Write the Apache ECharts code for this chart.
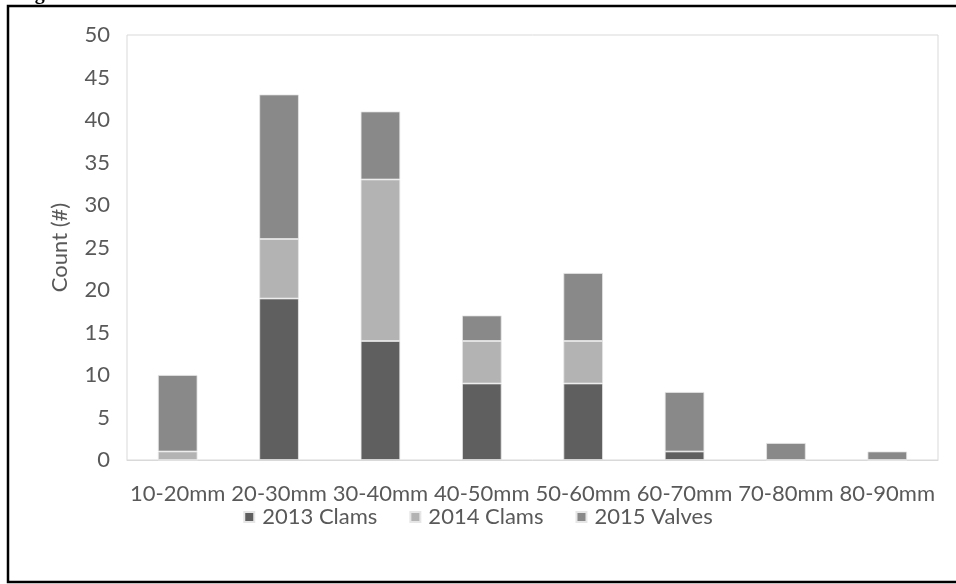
<!DOCTYPE html>
<html>
<head>
<meta charset="utf-8">
<script src="https://cdn.jsdelivr.net/npm/echarts@6/dist/echarts.min.js"></script>
<style>html,body{margin:0;padding:0;background:#fff}#c{width:956px;height:584px}</style>
</head>
<body>
<div id="c"></div>
<script>
const categories = ['10-20mm','20-30mm','30-40mm','40-50mm','50-60mm','60-70mm','70-80mm','80-90mm'];
const clams2013 = [0, 19, 14, 9, 9, 1, 0, 0];
const clams2014 = [1, 7, 19, 5, 5, 0, 0, 0];
const valves2015 = [9, 17, 8, 3, 8, 7, 2, 1];
const seriesNames = ['2013 Clams','2014 Clams','2015 Valves'];
const yTicks = {min: 0, max: 50, interval: 5};

const FONT = 'Lato';
const TXT = '#595959';
const colors = ['#5f5f5f','#b3b3b3','#898989'];
const chart = echarts.init(document.getElementById('c'), null, {renderer:'canvas'});
const mk = (name, data, i) => ({
  name, type:'bar', stack:'a', data, barWidth:'39%',
  itemStyle:{color:colors[i], borderColor:'#e6e6e6', borderWidth:0.8},
  emphasis:{disabled:true}
});
chart.setOption({
  animation:false,
  grid:{left:127, top:35, right:18, bottom:124, show:true, borderColor:'#d9d9d9', borderWidth:1},
  legend:{
    data:seriesNames, top:501, left:'center', icon:'rect', itemWidth:10, itemHeight:10, itemGap:32,
    textStyle:{fontFamily:FONT, fontSize:22, color:TXT, padding:[0,0,0,3]}
  },
  xAxis:{
    type:'category', data:categories,
    axisLine:{lineStyle:{color:'#d9d9d9'}}, axisTick:{show:false},
    axisLabel:{fontFamily:FONT, fontSize:22, color:TXT, margin:23, interval:0}
  },
  yAxis:{
    type:'value', min:yTicks.min, max:yTicks.max, interval:yTicks.interval,
    axisLine:{show:false}, axisTick:{show:false}, splitLine:{show:false},
    axisLabel:{fontFamily:FONT, fontSize:22, color:TXT, margin:17},
    name:'Count (#)', nameLocation:'middle', nameGap:56,
    nameTextStyle:{fontFamily:FONT, fontSize:22, color:TXT}
  },
  series:[mk(seriesNames[0], clams2013, 0), mk(seriesNames[1], clams2014, 1), mk(seriesNames[2], valves2015, 2)],
  graphic:[
    {type:'rect', shape:{x:8, y:6, width:960, height:576}, style:{fill:'none', stroke:'#000', lineWidth:2.5}, silent:true},
    {type:'text', x:17, y:4, style:{text:'Figure', font:'bold 20px "Liberation Serif"', fill:'#000', verticalAlign:'bottom'}, silent:true}
  ]
});
</script>
</body>
</html>
